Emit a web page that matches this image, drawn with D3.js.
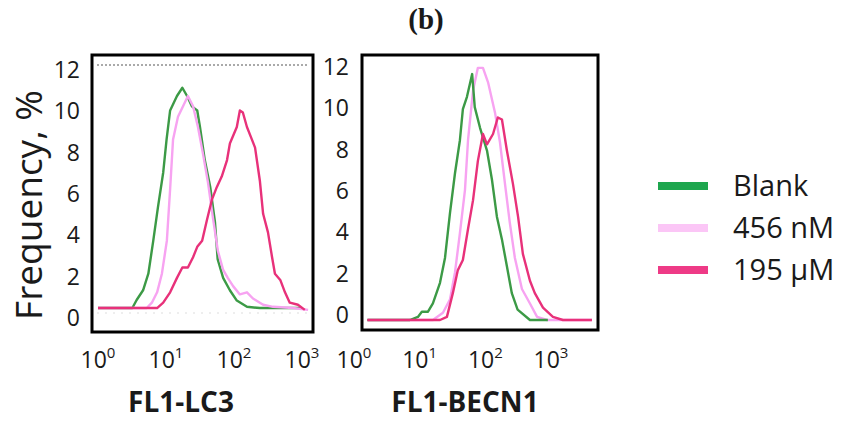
<!DOCTYPE html>
<html>
<head>
<meta charset="utf-8">
<script src="https://cdn.jsdelivr.net/npm/d3@7"></script>
<style>
  body { margin: 0; background: #fff; }
  text { font-family: "Open Sans", sans-serif; fill: #1a1a1a; }
</style>
</head>
<body>
<script>
// Width and height
var w = 851;
var h = 440;

// series names / legend
var seriesNames = ["Blank", "456 nM", "195 µM"];
var yTicks = [0, 2, 4, 6, 8, 10, 12];
var xTicks = [1, 10, 100, 1000];
var xTickExp = ["0", "1", "2", "3"];
var panelTitles = ["FL1-LC3", "FL1-BECN1"];

// FL1-LC3 histograms: [fluorescence, frequency %]
var lc3Blank = [[1,0.24],[3.2,0.24],[3.7,0.63],[4.6,1.1],[5.5,1.9],[6.5,3.5],[7.6,5.1],[9.1,6.8],[10.2,8.4],[11.5,9.8],[14.5,10.5],[17.4,10.9],[20.4,10.5],[24,10.0],[28.8,9.8],[31.6,9.0],[37.2,7.4],[44.7,6.1],[52.5,4.4],[57.5,2.6],[69.2,1.7],[87,1.1],[110,0.6],[155,0.3],[240,0.24],[933,0.24]];
var lc3Low = [[1,0.24],[5.2,0.24],[6.2,0.5],[7.4,1.0],[8.7,1.9],[10.3,3.5],[11.5,6.0],[12.7,8.4],[15,9.5],[19,10.2],[21,10.5],[25,10.0],[29.5,9.0],[35,7.7],[41.5,6.3],[49,4.6],[58,3.0],[69,2.1],[81,1.7],[97,1.3],[122,0.9],[155,1.0],[190,0.7],[268,0.4],[375,0.3],[740,0.24],[1230,0.15]];
var lc3High = [[1,0.24],[7.4,0.24],[9.1,0.5],[11.5,1.0],[14.5,1.7],[17.4,2.2],[21,2.2],[25,2.7],[28.8,3.2],[34,3.5],[40,4.5],[47.5,5.5],[56,6.1],[66,6.6],[79,7.4],[87,8.2],[110,9.0],[122,9.8],[135,9.7],[155,9.0],[183,8.4],[204,8.0],[240,6.4],[268,4.8],[316,3.9],[363,2.7],[400,1.9],[479,1.6],[562,1.0],[661,0.5],[871,0.4],[1100,0.15]];

// FL1-BECN1 histograms
var becnBlank = [[1.6,0],[7.1,0],[9.4,0.15],[10.8,0.4],[13.4,0.4],[15.9,0.8],[20.4,1.8],[24.3,3.0],[29,5.2],[34.5,7.1],[41,8.7],[45.5,10.2],[52.5,10.8],[63,11.9],[69,10.3],[83,9.3],[106,8.2],[126,6.8],[150,5.0],[179,3.9],[213,2.6],[253,1.3],[310,0.5],[478,0],[895,0]];
var becnLow = [[1.6,0],[15.9,0],[22.6,0.35],[29,1.0],[34.5,2.3],[41,4.2],[49,6.3],[54.5,8.7],[65,11.1],[77,12.2],[92,12.2],[110,11.5],[141,10.0],[167,8.6],[199,6.6],[236,4.7],[282,3.0],[361,1.5],[478,0.8],[614,0.15],[870,0],[4200,0]];
var becnHigh = [[1.6,0],[20.4,0],[26,0.15],[32,1.3],[38,2.4],[45.5,2.9],[54.5,4.4],[65,5.8],[77,7.7],[92,9.0],[106,8.5],[131,9.0],[155,9.8],[179,9.7],[213,8.2],[263,6.6],[315,5.0],[373,3.2],[478,1.9],[567,1.3],[755,0.6],[1070,0.15],[1520,0],[4200,0]];

var lineColors = ["#3c9a46", "#f7a3f1", "#e8317a"];
var legendColors = ["#1ea64e", "#fbc6f6", "#ee3a86"];

var panels = [
  { box: [92, 55, 313, 332], x: [98, 302], y: [313, 65], yLab: 80, yShift: 5,
    series: [lc3Blank, lc3Low, lc3High], order: [0, 1, 2], title: panelTitles[0], titleX: 181, grid: true },
  { box: [362, 55, 598, 330], x: [354, 551], y: [320, 72], yLab: 349, yShift: -5,
    series: [becnBlank, becnLow, becnHigh], order: [1, 0, 2], title: panelTitles[1], titleX: 465, grid: false }
];

// Create SVG element
var svg = d3.select("body")
            .append("svg")
            .attr("width", w)
            .attr("height", h);

svg.append("text")
   .attr("x", 426).attr("y", 29)
   .attr("text-anchor", "middle")
   .style("font-family", "'Liberation Serif', 'DejaVu Serif', serif")
   .style("font-weight", "bold")
   .style("font-size", "29px")
   .text("(b)");

panels.forEach(function(p) {
    var xScale = d3.scaleLog().domain([1, 1000]).range(p.x);
    var yScale = d3.scaleLinear().domain([0, 12]).range(p.y);
    var g = svg.append("g");

    if (p.grid) {
        g.append("line")
         .attr("x1", p.box[0] + 5).attr("x2", p.box[2] - 5)
         .attr("y1", yScale(12)).attr("y2", yScale(12))
         .attr("stroke", "#aaa").attr("stroke-width", 2)
         .attr("stroke-dasharray", "2,2");
        g.append("line")
         .attr("x1", p.box[0] + 5).attr("x2", p.box[2] - 5)
         .attr("y1", yScale(0)).attr("y2", yScale(0))
         .attr("stroke", "#ddd").attr("stroke-width", 1)
         .attr("stroke-dasharray", "2,6");
    }

    var line = d3.line()
        .x(function(d) { return xScale(d[0]); })
        .y(function(d) { return yScale(d[1]); });

    p.order.forEach(function(i) {
        g.append("path")
         .datum(p.series[i])
         .attr("fill", "none")
         .attr("stroke", lineColors[i])
         .attr("stroke-width", 2.4)
         .attr("stroke-linejoin", "round")
         .attr("d", line);
    });

    // frame
    g.append("rect")
     .attr("x", p.box[0]).attr("y", p.box[1])
     .attr("width", p.box[2] - p.box[0]).attr("height", p.box[3] - p.box[1])
     .attr("fill", "none").attr("stroke", "#000").attr("stroke-width", 3);

    // y axis labels
    var yAxis = d3.axisLeft(yScale).tickValues(yTicks).tickSize(0).tickPadding(0);
    var ya = g.append("g")
      .attr("transform", "translate(" + p.yLab + "," + p.yShift + ")")
      .call(yAxis);
    ya.select(".domain").remove();
    ya.selectAll("text")
      .style("font-family", "'Open Sans', sans-serif")
      .style("font-size", "23px")
      .attr("fill", "#1a1a1a");

    // x tick labels with superscripts
    var xl = g.selectAll("text.xlab")
      .data(xTicks)
      .enter()
      .append("text")
      .classed("xlab", true)
      .attr("x", function(d) { return xScale(d); })
      .attr("y", 368)
      .attr("text-anchor", "middle")
      .style("font-size", "23px");
    xl.append("tspan").text("10");
    xl.append("tspan")
      .attr("dy", -10)
      .style("font-size", "15px")
      .text(function(d, i) { return xTickExp[i]; });

    g.append("text")
     .attr("x", p.titleX).attr("y", 412)
     .attr("text-anchor", "middle")
     .style("font-weight", "bold")
     .style("font-size", "28px")
     .text(p.title);
});

// y title
svg.append("text")
   .attr("transform", "translate(42,205) rotate(-90)")
   .attr("text-anchor", "middle")
   .style("font-size", "37px")
   .text("Frequency, %");

// legend
var legendY = [186, 228, 270];
var leg = svg.selectAll("g.legend")
  .data(seriesNames)
  .enter()
  .append("g")
  .classed("legend", true)
  .attr("transform", function(d, i) { return "translate(658," + legendY[i] + ")"; });

leg.append("rect")
   .attr("x", 0).attr("y", -4)
   .attr("width", 50).attr("height", 8)
   .attr("fill", function(d, i) { return legendColors[i]; });

leg.append("text")
   .attr("x", 75).attr("y", 10)
   .style("font-size", "29px")
   .text(function(d) { return d; });
</script>
</body>
</html>
